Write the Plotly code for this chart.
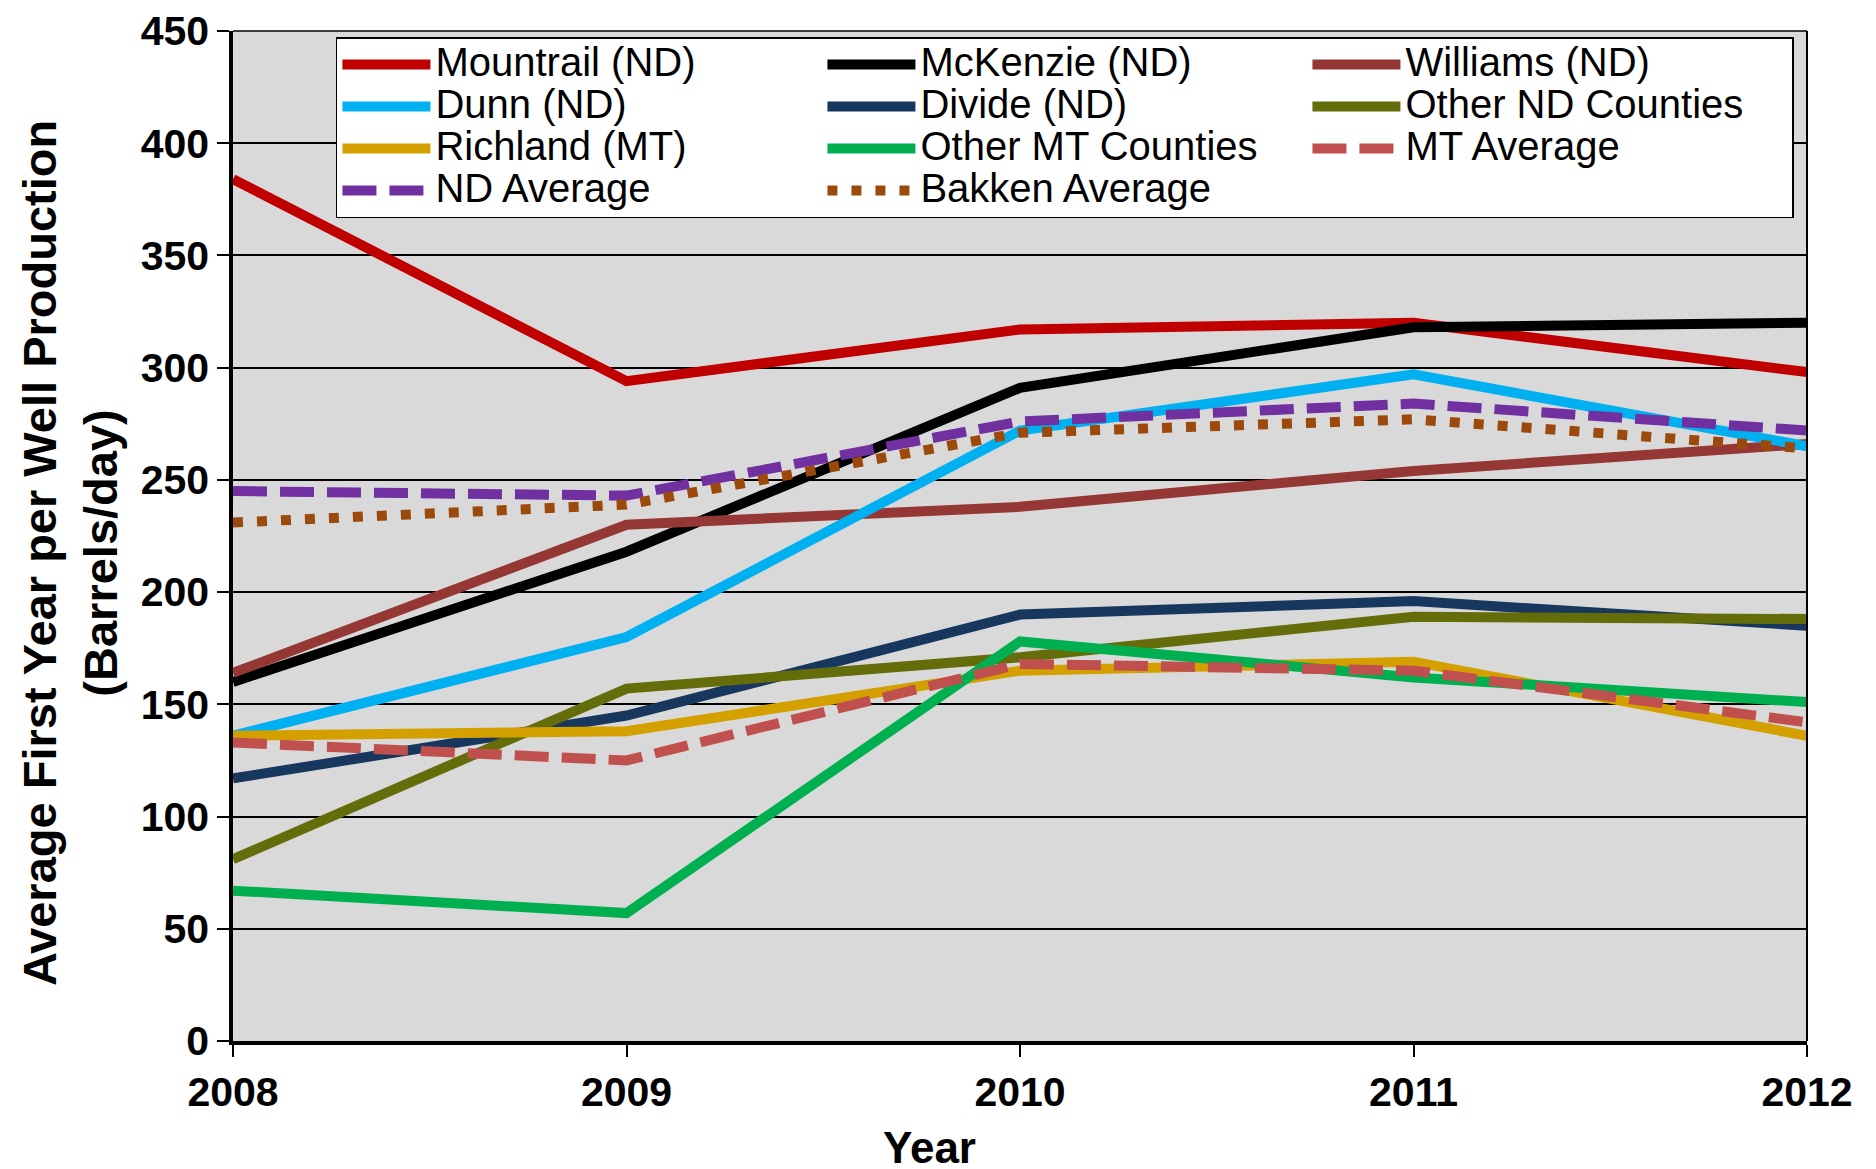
import plotly.graph_objects as go

years = [2008, 2009, 2010, 2011, 2012]

mountrail = [384, 294, 317, 320, 298]
mckenzie = [160, 218, 291, 318, 320]
williams = [164, 230, 238, 254, 266]
dunn = [136, 180, 272, 297, 265]
divide = [117, 145, 190, 196, 185]
other_nd = [81, 157, 171, 189, 188]
richland = [136, 138, 165, 169, 136]
other_mt = [67, 57, 178, 162, 151]
mt_avg = [133, 125, 168, 165, 142]
nd_avg = [245, 243, 276, 284, 272]
bakken_avg = [231, 239, 271, 277, 264]

series = [
    ("Mountrail (ND)", mountrail, "#C00000", "solid"),
    ("McKenzie (ND)", mckenzie, "#000000", "solid"),
    ("Williams (ND)", williams, "#953735", "solid"),
    ("Dunn (ND)", dunn, "#00B0F0", "solid"),
    ("Divide (ND)", divide, "#17375E", "solid"),
    ("Other ND Counties", other_nd, "#646D0A", "solid"),
    ("Richland (MT)", richland, "#D4A000", "solid"),
    ("Other MT Counties", other_mt, "#00B050", "solid"),
    ("MT Average", mt_avg, "#C0504D", "34px,13px"),
    ("ND Average", nd_avg, "#7030A0", "34px,13px"),
    ("Bakken Average", bakken_avg, "#9C4A0C", "10px,14px"),
]

FONT = "Liberation Sans, Arial, sans-serif"

fig = go.Figure()
for name, vals, color, dash in series:
    fig.add_trace(go.Scatter(
        x=years, y=vals, mode="lines",
        name='<span style="font-size:40px">' + name + '</span>',
        line=dict(color=color, width=10, dash=dash),
    ))

fig.update_layout(
    width=1876, height=1169,
    margin=dict(l=225, r=77, t=23, b=136, autoexpand=False),
    paper_bgcolor="white",
    plot_bgcolor="#D9D9D9",
    font=dict(family=FONT, color="black"),
    showlegend=True,
    legend=dict(
        orientation="h",
        x=0.0654, y=0.994, xanchor="left", yanchor="top",
        bgcolor="white", bordercolor="black", borderwidth=1.5,
        font=dict(family=FONT, size=30, color="black"),
        itemwidth=88, entrywidth=382, entrywidthmode="pixels",
        tracegroupgap=0,
    ),
    xaxis=dict(
        range=[2008, 2012], tickmode="array", tickvals=years,
        ticktext=[str(y) for y in years],
        showgrid=False, zeroline=False, automargin=False,
        showline=True, linecolor="black", linewidth=3.5,
        ticks="outside", ticklen=12, tickwidth=2, tickcolor="black",
        ticklabeloverflow="allow",
        tickfont=dict(family=FONT, size=41, color="black", weight="bold"),
    ),
    yaxis=dict(
        range=[0, 450], dtick=50, tick0=0,
        showgrid=True, gridcolor="black", gridwidth=1.5,
        zeroline=False, automargin=False,
        showline=True, linecolor="black", linewidth=3.5,
        ticks="outside", ticklen=12, tickwidth=2, tickcolor="black",
        ticklabeloverflow="allow",
        tickfont=dict(family=FONT, size=41, color="black", weight="bold"),
    ),
    annotations=[
        dict(
            text="Year", xref="paper", yref="paper", x=0.4422, y=-0.105,
            xanchor="center", yanchor="middle", showarrow=False,
            font=dict(family=FONT, size=44, color="black", weight="bold"),
        ),
        dict(
            text="Average First Year per Well Production<br>(Barrels/day)",
            xref="paper", yref="paper", x=-0.1036, y=0.483,
            xanchor="center", yanchor="middle", showarrow=False, textangle=-90,
            font=dict(family=FONT, size=47, color="black", weight="bold"),
        ),
    ],
)

fig.add_shape(type="line", xref="paper", yref="paper", x0=1, x1=1, y0=0, y1=1,
              line=dict(color="black", width=2))
fig.add_shape(type="line", xref="paper", yref="paper", x0=0, x1=1, y0=1, y1=1,
              line=dict(color="black", width=1.5))

fig.write_html("out.html")
